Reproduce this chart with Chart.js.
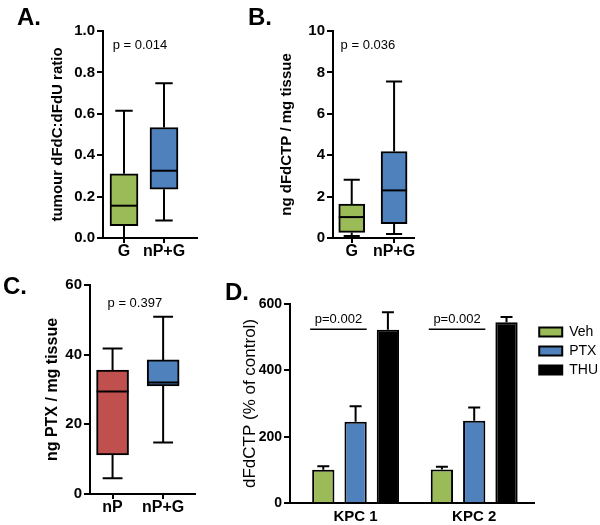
<!DOCTYPE html>
<html lang="en">
<head>
<meta charset="UTF-8">
<title>dFdC / dFdCTP / PTX panels</title>
<script src="https://cdn.jsdelivr.net/npm/chart.js"></script>
<style>
    body {
        margin: 0;
        background: #ffffff;
        font-family: 'Liberation Sans', Arial, sans-serif;
    }
    #fig {
        position: relative;
        width: 600px;
        height: 525px;
        overflow: hidden;
    }
    #fig canvas {
        position: absolute;
    }
    .letter {
        position: absolute;
        font: bold 24px 'Liberation Sans', Arial, sans-serif;
        line-height: 1;
        color: #000;
    }
</style>
</head>
<body>
<div id="fig">
    <canvas id="chartA" width="230" height="270" style="left:0;top:0"></canvas>
    <canvas id="chartB" width="220" height="270" style="left:230px;top:0"></canvas>
    <canvas id="chartC" width="220" height="255" style="left:0;top:270px"></canvas>
    <canvas id="chartD" width="392" height="255" style="left:220px;top:270px"></canvas>
    <div class="letter" style="left:17px;top:5px">A.</div>
    <div class="letter" style="left:248px;top:5px">B.</div>
    <div class="letter" style="left:3px;top:274px">C.</div>
    <div class="letter" style="left:225px;top:280px">D.</div>
</div>

<script>
// panel A - tumour dFdC:dFdU ratio
const catsA = ['G', 'nP+G'];
const minA = [0.0, 0.085];
const q1A = [0.06, 0.236];
const medA = [0.156, 0.325];
const q3A = [0.31, 0.534];
const maxA = [0.615, 0.748];

// panel B - ng dFdCTP / mg tissue
const catsB = ['G', 'nP+G'];
const minB = [0.1, 0.19];
const q1B = [0.27, 0.69];
const medB = [1.01, 2.3];
const q3B = [1.64, 4.18];
const maxB = [2.82, 7.56];

// panel C - ng PTX / mg tissue
const catsC = ['nP', 'nP+G'];
const minC = [4.5, 14.8];
const q1C = [11.2, 31.0];
const medC = [29.4, 32.0];
const q3C = [35.6, 38.5];
const maxC = [41.8, 50.9];

// panel D - dFdCTP (% of control), mean + error
const groupsD = ['KPC 1', 'KPC 2'];
const vehMean = [100, 101];
const vehErr = [11, 8];
const ptxMean = [245, 248];
const ptxErr = [47, 40];
const thuMean = [522, 545];
const thuErr = [53, 16];
const pLineD = 524;

const GREEN = '#9BBB59';
const BLUE = '#4F81BD';
const RED = '#C0504D';
const FONT = "'Liberation Sans', Arial, sans-serif";

function boxChart(id, o) {
    const pos = o.cats.map((c, i) => i + 1);

    const whiskers = {
        id: 'whiskers',
        beforeDatasetsDraw(chart) {
            const ctx = chart.ctx;
            const y = chart.scales.y;
            const bars = chart.getDatasetMeta(0).data;
            ctx.save();
            ctx.strokeStyle = '#000';
            ctx.lineWidth = 2;
            bars.forEach((b, i) => {
                const cw = b.width * 0.31;
                const yMin = y.getPixelForValue(o.min[i]);
                const yMax = y.getPixelForValue(o.max[i]);
                const yQ1 = y.getPixelForValue(o.q1[i]);
                const yQ3 = y.getPixelForValue(o.q3[i]);
                ctx.beginPath();
                ctx.moveTo(b.x, yQ3); ctx.lineTo(b.x, yMax);
                ctx.moveTo(b.x - cw, yMax); ctx.lineTo(b.x + cw, yMax);
                ctx.moveTo(b.x, yQ1); ctx.lineTo(b.x, yMin);
                ctx.moveTo(b.x - cw, yMin); ctx.lineTo(b.x + cw, yMin);
                ctx.stroke();
            });
            ctx.restore();
        },
        afterDatasetsDraw(chart) {
            const ctx = chart.ctx;
            const y = chart.scales.y;
            const bars = chart.getDatasetMeta(0).data;
            ctx.save();
            ctx.strokeStyle = '#000';
            ctx.lineWidth = 2;
            bars.forEach((b, i) => {
                const ym = y.getPixelForValue(o.med[i]);
                ctx.beginPath();
                ctx.moveTo(b.x - b.width / 2, ym);
                ctx.lineTo(b.x + b.width / 2, ym);
                ctx.stroke();
            });
            // p value label
            const xMid = (bars[0].x + bars[bars.length - 1].x) / 2 + o.pShift;
            ctx.fillStyle = '#000';
            ctx.font = '13px ' + FONT;
            ctx.textAlign = 'center';
            ctx.textBaseline = 'middle';
            ctx.fillText(o.pText, xMid, y.getPixelForValue(o.pY));
            ctx.restore();
        }
    };

    return new Chart(document.getElementById(id), {
        type: 'bar',
        data: {
            datasets: [{
                data: pos.map((p, i) => ({ x: p, y: [o.q1[i], o.q3[i]] })),
                backgroundColor: o.colors,
                borderColor: '#000',
                borderWidth: 2,
                borderSkipped: false,
                barThickness: o.barW
            }]
        },
        options: {
            responsive: false,
            animation: false,
            layout: { padding: o.pad },
            plugins: {
                legend: { display: false },
                tooltip: { enabled: false }
            },
            scales: {
                x: {
                    type: 'linear',
                    min: o.xMin,
                    max: o.xMax,
                    offset: false,
                    afterBuildTicks: s => { s.ticks = pos.map(v => ({ value: v })); },
                    afterFit: s => { s.height = o.xH; },
                    ticks: {
                        callback: (v, i) => o.cats[i],
                        color: '#000',
                        font: { family: FONT, size: 16, weight: 'bold', lineHeight: 1 },
                        padding: 1,
                        maxRotation: 0,
                        autoSkip: false
                    },
                    grid: { drawOnChartArea: false, tickLength: 5, color: '#000', lineWidth: 2, offset: false },
                    border: { color: '#000', width: 2 }
                },
                y: {
                    min: 0,
                    max: o.yMax,
                    afterFit: s => { s.width = o.yW; },
                    ticks: {
                        stepSize: o.step,
                        callback: o.fmt,
                        color: '#000',
                        font: { family: FONT, size: 15, weight: 'bold' },
                        padding: 2
                    },
                    grid: { drawOnChartArea: false, tickLength: 6, color: '#000', lineWidth: 2 },
                    border: { color: '#000', width: 2 },
                    title: {
                        display: true,
                        text: o.title,
                        color: '#000',
                        font: { family: FONT, size: o.titleSize, weight: 'bold' },
                        padding: 0
                    }
                }
            }
        },
        plugins: [whiskers]
    });
}

boxChart('chartA', {
    cats: catsA, min: minA, q1: q1A, med: medA, q3: q3A, max: maxA,
    colors: [GREEN, BLUE], barW: 28,
    xMin: 0.475, xMax: 2.825, yMax: 1, step: 0.2, fmt: v => v.toFixed(1),
    pad: { left: 49, top: 31, right: 33, bottom: 0 }, yW: 54, xH: 32,
    title: 'tumour dFdC:dFdU ratio', titleSize: 15,
    pText: 'p = 0.014', pY: 0.932, pShift: -4
});

boxChart('chartB', {
    cats: catsB, min: minB, q1: q1B, med: medB, q3: q3B, max: maxB,
    colors: [GREEN, BLUE], barW: 26,
    xMin: 0.558, xMax: 2.47, yMax: 10, step: 2, fmt: v => v,
    pad: { left: 48, top: 31, right: 36, bottom: 0 }, yW: 55, xH: 32,
    title: 'ng dFdCTP / mg tissue', titleSize: 15,
    pText: 'p = 0.036', pY: 9.32, pShift: -5
});

boxChart('chartC', {
    cats: catsC, min: minC, q1: q1C, med: medC, q3: q3C, max: maxC,
    colors: [RED, BLUE], barW: 32,
    xMin: 0.554, xMax: 2.63, yMax: 60, step: 20, fmt: v => v,
    pad: { left: 43, top: 15, right: 25, bottom: 0 }, yW: 47, xH: 31,
    title: 'ng PTX / mg tissue', titleSize: 16,
    pText: 'p = 0.397', pY: 54.8, pShift: -3
});

// panel D - grouped bars with upper error bars
const posD = groupsD.map((g, i) => i);
const errD = [vehErr, ptxErr, thuErr];

const errorBars = {
    id: 'errorBars',
    afterDatasetsDraw(chart) {
        const ctx = chart.ctx;
        const y = chart.scales.y;
        ctx.save();
        ctx.strokeStyle = '#000';
        ctx.lineWidth = 2;
        chart.data.datasets.forEach((ds, d) => {
            chart.getDatasetMeta(d).data.forEach((b, i) => {
                const top = y.getPixelForValue(ds.data[i].y + errD[d][i]);
                ctx.beginPath();
                ctx.moveTo(b.x, b.y);
                ctx.lineTo(b.x, top);
                ctx.moveTo(b.x - 6, top);
                ctx.lineTo(b.x + 6, top);
                ctx.stroke();
            });
        });
        // significance lines Veh vs PTX
        const veh = chart.getDatasetMeta(0).data;
        const ptx = chart.getDatasetMeta(1).data;
        const yl = y.getPixelForValue(pLineD);
        ctx.lineWidth = 1.5;
        ctx.fillStyle = '#000';
        ctx.font = '13px ' + FONT;
        ctx.textAlign = 'center';
        ctx.textBaseline = 'bottom';
        veh.forEach((b, i) => {
            const x1 = b.x - b.width / 2 - 2;
            const x2 = ptx[i].x + ptx[i].width / 2;
            ctx.beginPath();
            ctx.moveTo(x1, yl);
            ctx.lineTo(x2, yl);
            ctx.stroke();
            ctx.fillText('p=0.002', (x1 + x2) / 2, yl - 3);
        });
        ctx.restore();
    }
};

const barOpts = { borderColor: '#000', borderWidth: 2, categoryPercentage: 0.817, barPercentage: 0.69 };

new Chart(document.getElementById('chartD'), {
    type: 'bar',
    data: {
        datasets: [
            Object.assign({ label: 'Veh', data: posD.map((p, i) => ({ x: p, y: vehMean[i] })), backgroundColor: GREEN }, barOpts),
            Object.assign({ label: 'PTX', data: posD.map((p, i) => ({ x: p, y: ptxMean[i] })), backgroundColor: BLUE }, barOpts),
            Object.assign({ label: 'THU', data: posD.map((p, i) => ({ x: p, y: thuMean[i] })), backgroundColor: '#000' }, barOpts)
        ]
    },
    options: {
        responsive: false,
        animation: false,
        layout: { padding: { left: 20, top: 34, right: 4, bottom: 0 } },
        plugins: {
            tooltip: { enabled: false },
            legend: {
                display: true,
                position: 'right',
                align: 'start',
                title: { display: true, text: ' ', font: { size: 10 }, padding: { top: 4, bottom: 0 } },
                labels: {
                    boxWidth: 23,
                    boxHeight: 9,
                    color: '#000',
                    font: { family: FONT, size: 14 },
                    padding: 5
                }
            }
        },
        scales: {
            x: {
                type: 'linear',
                min: -0.553,
                max: 1.506,
                offset: false,
                afterBuildTicks: s => { s.ticks = posD.map(v => ({ value: v })); },
                afterFit: s => { s.height = 22; },
                ticks: {
                    callback: (v, i) => groupsD[i],
                    color: '#000',
                    font: { family: FONT, size: 15, weight: 'bold', lineHeight: 1 },
                    padding: 6,
                    maxRotation: 0,
                    autoSkip: false
                },
                grid: { drawOnChartArea: false, drawTicks: false, color: '#000', lineWidth: 2 },
                border: { color: '#000', width: 2 }
            },
            y: {
                min: 0,
                max: 600,
                afterFit: s => { s.width = 50; },
                ticks: {
                    stepSize: 200,
                    color: '#000',
                    font: { family: FONT, size: 14, weight: 'bold' },
                    padding: 2
                },
                grid: { drawOnChartArea: false, tickLength: 6, color: '#000', lineWidth: 2 },
                border: { color: '#000', width: 2 },
                title: {
                    display: true,
                    text: 'dFdCTP (% of control)',
                    color: '#000',
                    font: { family: FONT, size: 17 },
                    padding: 0
                }
            }
        }
    },
    plugins: [errorBars]
});
</script>
</body>
</html>
